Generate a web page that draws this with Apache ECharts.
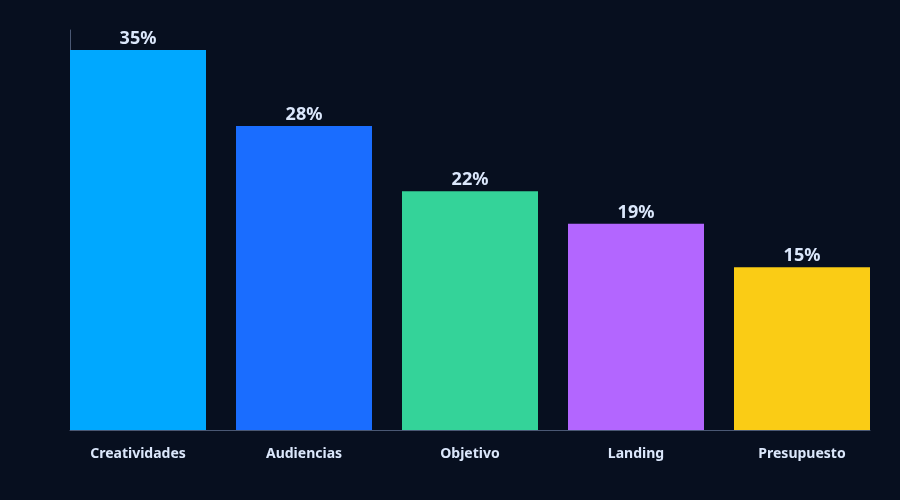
<!DOCTYPE html>
<html><head><meta charset="utf-8">
<script src="https://cdn.jsdelivr.net/npm/echarts@6/dist/echarts.min.js"></script>
<style>html,body{margin:0;padding:0;background:#070f1f;}#c{width:900px;height:500px;}</style>
</head><body><div id="c"></div>
<script>
const categories = ['Creatividades','Audiencias','Objetivo','Landing','Presupuesto'];
const values = [35, 28, 22, 19, 15];
const colors = ['#00a8ff','#1a6dff','#34d399','#b366ff','#facc15'];

const chart = echarts.init(document.getElementById('c'));
chart.setOption({
  backgroundColor: '#070f1f',
  animation: false,
  grid: [
    {left: 55, right: 15, top: 30, bottom: 70},
    {left: 70, right: 30, top: 30, bottom: 70}
  ],
  xAxis: [
    {type: 'category', gridIndex: 0, data: categories,
     axisLine: {show: false}, axisTick: {show: false},
     axisLabel: {color: '#dbe7fb', fontSize: 14, fontWeight: 'bold', margin: 17, fontFamily: 'Noto Sans, sans-serif'}},
    {type: 'category', gridIndex: 1, data: categories,
     axisLine: {show: true, lineStyle: {color: '#4a5874', width: 1}}, axisTick: {show: false}, axisLabel: {show: false}}
  ],
  yAxis: [
    {type: 'value', gridIndex: 0, min: 0, max: 36.85,
     axisLine: {show: false}, axisTick: {show: false}, axisLabel: {show: false}, splitLine: {show: false}},
    {type: 'value', gridIndex: 1, min: 0, max: 36.85,
     axisLine: {show: true, lineStyle: {color: '#4a5874', width: 1}}, axisTick: {show: false}, axisLabel: {show: false}, splitLine: {show: false}}
  ],
  series: [{
    type: 'bar', xAxisIndex: 0, yAxisIndex: 0, z: 3,
    barWidth: 136,
    data: values.map((v, i) => ({value: v, itemStyle: {color: colors[i]}})),
    label: {show: true, position: 'top', distance: 2, formatter: '{c}%',
      color: '#dbe7fb', fontSize: 18, fontWeight: 'bold', fontFamily: 'Noto Sans, sans-serif'}
  }]
});
</script></body></html>
